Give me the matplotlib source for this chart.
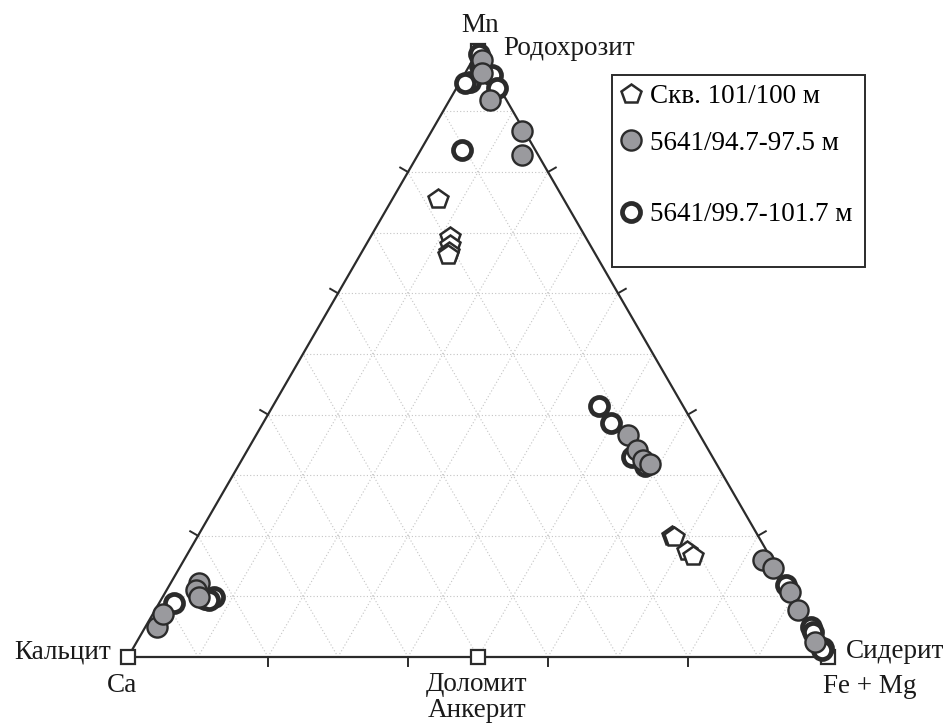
import numpy as np
import matplotlib
matplotlib.use('Agg')
import matplotlib.pyplot as plt
from matplotlib.lines import Line2D
from matplotlib.patches import Rectangle

plt.rcParams['font.family'] = ['Liberation Serif', 'DejaVu Serif']

# ternary compositions in %: Ca, Fe+Mg, Mn
# Скв. 101/100 м (pentagons)
well_ca = [18.0, 19.4, 20.0, 20.7, 21.1, 12.3, 12.1, 11.4, 10.9]
well_fe = [6.5, 11.3, 12.0, 12.5, 12.6, 67.7, 68.1, 71.1, 72.4]
well_mn = [75.5, 69.3, 68.0, 66.8, 66.3, 20.0, 19.8, 17.5, 16.7]

# 5641/94.7-97.5 м (grey circles)
s1_ca = [0.2, 1.3, 2.3, 0.3, 2.3, 10.3, 10.2, 10.2, 9.5, 1.3, 0.5, 0.1, 0.4, 0.6, 93.4, 91.5, 83.8, 84.8, 84.9]
s1_fe = [1.3, 2.4, 5.8, 12.9, 14.9, 53.1, 55.6, 57.3, 58.7, 82.7, 84.8, 89.2, 91.8, 96.9, 1.7, 1.4, 4.0, 4.2, 5.2]
s1_mn = [98.5, 96.3, 91.9, 86.8, 82.8, 36.6, 34.2, 32.5, 31.8, 16.0, 14.7, 10.7, 7.8, 2.5, 4.9, 7.1, 12.2, 11.0, 9.9]

# 5641/99.7-101.7 м (open circles)
s2_ca = [0.1, 1.0, 3.7, 4.5, 0.0, 0.3, 10.5, 12.0, 11.7, 11.5, 10.4, 0.0, 0.0, 0.1, 0.0, 0.2, 89.0, 84.2, 82.8, 83.7]
s2_fe = [0.4, 1.5, 1.4, 0.8, 4.0, 5.8, 5.9, 46.6, 49.7, 55.5, 58.1, 88.1, 95.0, 95.8, 98.5, 98.6, 2.1, 6.2, 7.3, 6.9]
s2_mn = [99.5, 97.5, 94.9, 94.7, 96.0, 93.9, 83.6, 41.4, 38.6, 33.0, 31.5, 11.9, 5.0, 4.1, 1.5, 1.2, 8.9, 9.6, 9.9, 9.4]

# end members (Ca, Fe+Mg, Mn): кальцит, сидерит, родохрозит, доломит
end_ca = [100, 0, 0, 50]
end_fe = [0, 100, 0, 50]
end_mn = [0, 0, 100, 0]

H = np.sqrt(3) / 2
dark = '#2b2b2b'
grey = '#9a9a9e'


def to_xy(ca, fe, mn):
    ca, fe, mn = np.asarray(ca, float), np.asarray(fe, float), np.asarray(mn, float)
    tot = ca + fe + mn
    return (fe + mn / 2) / tot, mn * H / tot


fig = plt.figure(figsize=(9.49, 7.25), dpi=100)
ax = fig.add_axes([0, 0, 1, 1])
ax.set_xlim(-128 / 700, (949 - 128) / 700)
ax.set_ylim((657 - 725) / 700, 657 / 700)
ax.axis('off')

# grid every 10 %
for i in range(1, 10):
    t = i / 10
    for a, b in [((1 - t, 0, t), (0, 1 - t, t)),
                 ((1 - t, t, 0), (0, t, 1 - t)),
                 ((t, 1 - t, 0), (t, 0, 1 - t))]:
        x, y = to_xy([a[0], b[0]], [a[1], b[1]], [a[2], b[2]])
        ax.plot(x, y, color='#c4c4c4', lw=0.8, ls=(0, (1, 2)), zorder=1)

# triangle
x, y = to_xy([1, 0, 0, 1], [0, 1, 0, 0], [0, 0, 1, 0])
ax.plot(x, y, color=dark, lw=1.6, zorder=2)

# ticks every 20 %, pointing outward
tl = 9 / 700
for t in [0.2, 0.4, 0.6, 0.8]:
    ax.plot([t, t], [0, -tl], color=dark, lw=1.4, zorder=2)
    px, py = t / 2, t * H
    ax.plot([px, px - tl * H], [py, py + tl / 2], color=dark, lw=1.4, zorder=2)
    px, py = 1 - t / 2, t * H
    ax.plot([px, px + tl * H], [py, py + tl / 2], color=dark, lw=1.4, zorder=2)

x, y = to_xy(end_ca, end_fe, end_mn)
ax.plot(x, y, 's', ms=10, mfc='white', mec=dark, mew=1.6, ls='none', zorder=3)

x, y = to_xy(well_ca, well_fe, well_mn)
ax.plot(x, y, 'p', ms=14.5, mfc='white', mec=dark, mew=1.8, ls='none', zorder=4)

x, y = to_xy(s2_ca, s2_fe, s2_mn)
ax.plot(x, y, 'o', ms=13, mfc='white', mec=dark, mew=3.4, ls='none', zorder=5)

x, y = to_xy(s1_ca, s1_fe, s1_mn)
ax.plot(x, y, 'o', ms=14.5, mfc=grey, mec=dark, mew=1.7, ls='none', zorder=6)

fs = 19.5


def ftext(px, py, s, ha):
    fig.text(px / 949, 1 - py / 725, s, ha=ha, va='baseline', fontsize=fs, color='#1a1a1a')


ftext(480, 32, 'Mn', 'center')
ftext(503, 55, 'Родохрозит', 'left')
ftext(111, 658, 'Кальцит', 'right')
ftext(122, 692, 'Ca', 'center')
ftext(477, 691, 'Доломит', 'center')
ftext(477, 717, 'Анкерит', 'center')
ftext(846, 658, 'Сидерит', 'left')
ftext(870, 693, 'Fe + Mg', 'center')

# legend
fig.patches.append(Rectangle((612 / 949, 1 - 267 / 725), 253 / 949, 192 / 725,
                             transform=fig.transFigure, fill=False, ec=dark, lw=1.4))
h1 = Line2D([], [], marker='p', ls='none', ms=14.5, mfc='white', mec=dark, mew=1.8)
h2 = Line2D([], [], marker='o', ls='none', ms=14.5, mfc=grey, mec=dark, mew=1.7)
h3 = Line2D([], [], marker='o', ls='none', ms=13, mfc='white', mec=dark, mew=3.4)
lkw = dict(loc='center left', frameon=False, borderpad=0, handlelength=1.0,
           handletextpad=0.2, fontsize=fs, borderaxespad=0, numpoints=1)
fig.legend([h1, h2], ['Скв. 101/100 м', '5641/94.7-97.5 м'],
           bbox_to_anchor=(617 / 949, 1 - 120 / 725), labelspacing=0.8, **lkw)
fig.legend([h3], ['5641/99.7-101.7 м'],
           bbox_to_anchor=(617 / 949, 1 - 215 / 725), **lkw)

fig.savefig('out.png', dpi=100)
